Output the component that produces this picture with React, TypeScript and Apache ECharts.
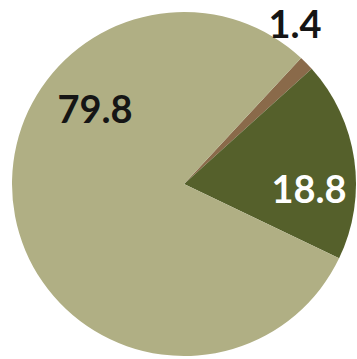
import React, { useEffect, useRef } from "react";
import * as echarts from "echarts";

const categories = ["A", "B", "C"];
const values = [1.4, 18.8, 79.8];
const colors = ["#8A6A4A", "#55602B", "#B0AF84"];
const labelColors = ["#151515", "#FFFFFF", "#151515"];
const labelPos: [number, number][] = [
  [295, 23],
  [309, 188],
  [95, 108],
];

export default function App() {
  const ref = useRef<HTMLDivElement>(null);
  useEffect(() => {
    document.body.style.margin = "0";
    if (!ref.current) return;
    const chart = echarts.init(ref.current, null, { renderer: "svg" });
    chart.setOption({
      animation: false,
      backgroundColor: "#FFFFFF",
      series: [
        {
          type: "pie",
          center: [184, 184],
          radius: 172,
          startAngle: 47.1,
          clockwise: true,
          avoidLabelOverlap: false,
          labelLine: { show: false },
          label: {
            show: true,
            position: "inside",
            formatter: (p: any) => p.value.toFixed(1),
            fontFamily: "Lato",
            fontWeight: "bold",
            fontSize: 38,
            lineHeight: 38,
            align: "center",
            verticalAlign: "middle",
          },
          labelLayout: (p: any) => ({
            x: labelPos[p.dataIndex][0],
            y: labelPos[p.dataIndex][1],
            align: "center",
            verticalAlign: "middle",
          }),
          emphasis: { disabled: true },
          data: categories.map((c, i) => ({
            name: c,
            value: values[i],
            itemStyle: { color: colors[i] },
            label: { color: labelColors[i] },
          })),
        },
      ],
    });
    return () => chart.dispose();
  }, []);
  return <div ref={ref} style={{ width: 357, height: 359 }} />;
}
